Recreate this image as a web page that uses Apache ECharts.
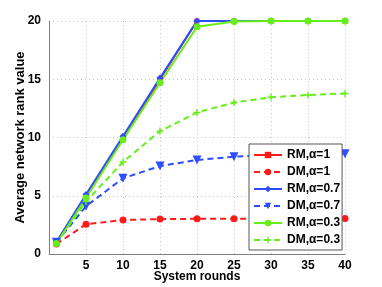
<!DOCTYPE html>
<html><head><meta charset="utf-8">
<script src="https://cdn.jsdelivr.net/npm/echarts@6/dist/echarts.min.js"></script>
<style>html,body{margin:0;padding:0;background:#fff}#c{width:382px;height:287px}</style>
</head><body><div id="c"></div>
<script>
const xValues = [1, 5, 10, 15, 20, 25, 30, 35, 40];
const seriesNames = ['RM,α=1', 'DM,α=1', 'RM,α=0.7', 'DM,α=0.7', 'RM,α=0.3', 'DM,α=0.3'];
const rmA1 = [1, 5, 10, 15, 20, 20, 20, 20, 20];
const dmA1 = [0.85, 2.55, 2.92, 3.0, 3.02, 3.02, 3.03, 3.03, 3.05];
const rmA07 = [1, 5.1, 10.1, 15.1, 20, 20, 20, 20, 20];
const dmA07 = [1.0, 4.1, 6.5, 7.55, 8.07, 8.35, 8.5, 8.55, 8.6];
const rmA03 = [0.9, 4.8, 9.8, 14.7, 19.5, 19.95, 20, 20, 20];
const dmA03 = [0.9, 4.5, 7.9, 10.55, 12.15, 13.0, 13.45, 13.65, 13.78];
const yTicks = [0, 5, 10, 15, 20];

const RED = '#ff1a1a', BLUE = '#2d4dff', GREEN = '#66ee1a';
const plus = 'path://M4,0h2v4h4v2h-4v4h-2v-4h-4v-2h4z';
function pts(arr){ return xValues.map((x,i)=>[x, arr[i]]); }
function mk(name, data, color, dashed, symbol, size){
  return {
    name, type:'line', data: pts(data), symbol, symbolSize:size,
    lineStyle:{color, width:2, type: dashed ? [6,4] : 'solid'},
    itemStyle:{color}, animation:false
  };
}
const chart = echarts.init(document.getElementById('c'));
const font = '"Liberation Sans", Arial, sans-serif';
chart.setOption({
  animation:false,
  textStyle:{fontFamily:font},
  grid:{left:49, right:37, top:21, bottom:33, containLabel:false, outerBoundsMode:'none'},
  xAxis:{type:'value', min:0, max:40, interval:5,
    name:'System rounds', nameLocation:'middle', nameGap:17, nameMoveOverlap:false,
    nameTextStyle:{fontSize:12, fontWeight:'bold', color:'#000', fontFamily:font},
    axisLine:{lineStyle:{color:'#808080', width:1}}, axisTick:{show:false},
    axisLabel:{fontSize:12, fontWeight:'bold', color:'#000', margin:6, fontFamily:font,
      formatter:v=> v===0 ? '' : String(v)},
    splitLine:{show:true, lineStyle:{color:'#c8c8c8', type:[1,3]}}},
  yAxis:{type:'value', min:yTicks[0], max:yTicks[yTicks.length-1], interval:5,
    name:'Average network rank value', nameLocation:'middle', nameGap:22, nameRotate:90, nameMoveOverlap:false,
    nameTextStyle:{fontSize:13, fontWeight:'bold', color:'#000', fontFamily:font},
    axisLine:{show:true, lineStyle:{color:'#808080', width:1}}, axisTick:{show:false},
    axisLabel:{fontSize:12, fontWeight:'bold', color:'#000', margin:8, fontFamily:font},
    splitLine:{show:true, lineStyle:{color:'#c8c8c8', type:[1,3]}}},
  legend:{orient:'vertical', left:249, top:144, itemGap:5, itemWidth:28, itemHeight:8,
    padding:[5,2,4,4], borderColor:'#555', borderWidth:1, backgroundColor:'#fff',
    textStyle:{fontSize:12, fontWeight:'bold', color:'#000', fontFamily:font},
    data: seriesNames},
  series:[
    mk(seriesNames[0], rmA1, RED, false, 'rect', 5),
    mk(seriesNames[1], dmA1, RED, true, 'circle', 7),
    mk(seriesNames[2], rmA07, BLUE, false, 'diamond', 7),
    mk(seriesNames[3], dmA07, BLUE, true, 'path://M0,0L10,0L5,9Z', 9),
    mk(seriesNames[4], rmA03, GREEN, false, 'circle', 7),
    mk(seriesNames[5], dmA03, GREEN, true, plus, 7)
  ]
});
</script></body></html>
